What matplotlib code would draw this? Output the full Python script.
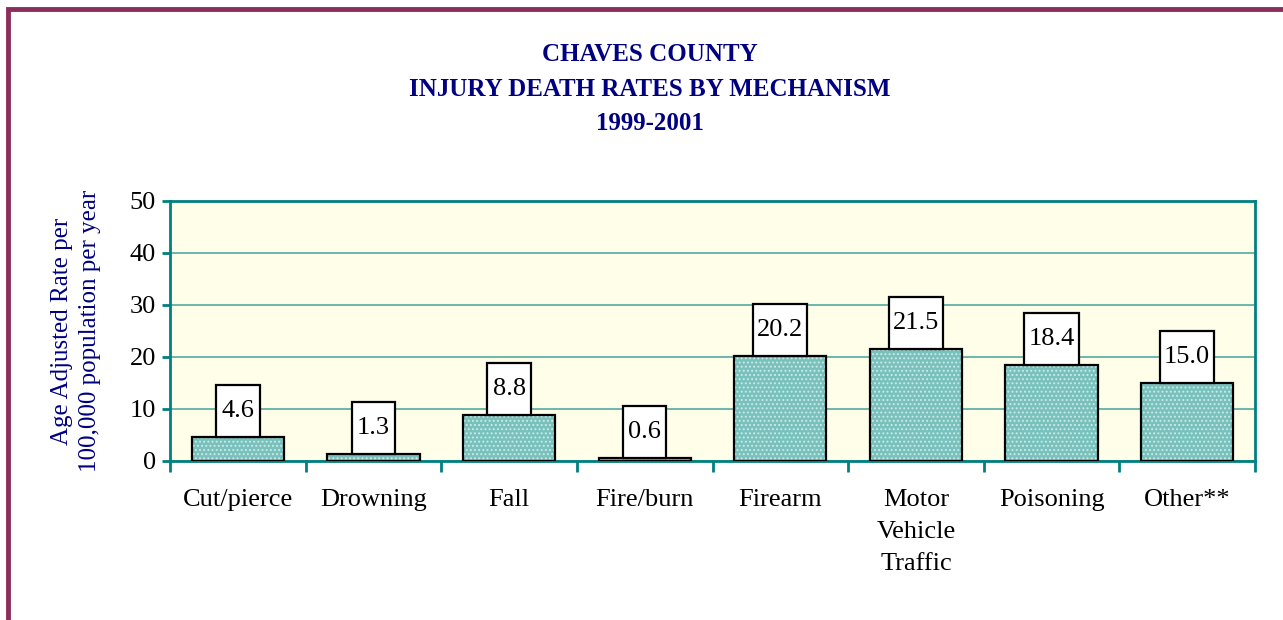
import matplotlib
matplotlib.use("Agg")
import matplotlib.pyplot as plt
from matplotlib.patches import Rectangle

# Injury death rates, Chaves County 1999-2001
categories = ["Cut/pierce", "Drowning", "Fall", "Fire/burn", "Firearm",
              "Motor\nVehicle\nTraffic", "Poisoning", "Other**"]
rates = [4.6, 1.3, 8.8, 0.6, 20.2, 21.5, 18.4, 15.0]
y_ticks = [0, 10, 20, 30, 40, 50]

plt.rcParams["font.family"] = ["Liberation Serif", "DejaVu Serif"]
plt.rcParams["hatch.linewidth"] = 0.9

navy = "#000080"
teal = "#008080"
grid_col = "#6DB7AB"
bar_col = "#78C1BC"

fig = plt.figure(figsize=(12.83, 6.2), dpi=100)
ax = fig.add_axes([0.1325, 0.2565, 0.8457, 0.4194])
ax.set_facecolor("#FFFEE8")

x = list(range(len(categories)))

# dotted fill, then black outline on top
ax.bar(x, rates, width=0.68, color=bar_col, edgecolor="#CDEAE7",
       linewidth=0, hatch="....", zorder=3)
ax.bar(x, rates, width=0.68, fill=False, edgecolor="black",
       linewidth=1.6, zorder=4)

# white value boxes sitting on each bar
labels = [f"{r:.1f}" for r in rates]
box_h = 10
box_w = [0.32 if len(s) <= 3 else 0.40 for s in labels]
ax.bar(x, [box_h] * len(rates), bottom=rates, width=box_w, color="white",
       edgecolor="black", linewidth=1.6, zorder=5)
for xi, r, s in zip(x, rates, labels):
    ax.text(xi, r + box_h / 2, s, ha="center", va="center",
            fontsize=19, zorder=6)

ax.set_xlim(-0.5, len(categories) - 0.5)
ax.set_ylim(0, 50)
ax.set_yticks(y_ticks)
ax.set_yticklabels([str(t) for t in y_ticks], fontsize=19)
ax.yaxis.grid(True, color=grid_col, linewidth=1.4, zorder=1)
ax.set_axisbelow(True)

# category names centred, ticks on category boundaries
ax.set_xticks(x)
ax.set_xticklabels(categories, fontsize=19, linespacing=1.6, va="top")
ax.set_xticks([i - 0.5 for i in range(len(categories) + 1)], minor=True)
ax.tick_params(axis="x", which="major", length=0, pad=20)
ax.tick_params(axis="x", which="minor", length=8, width=2, color=teal)
ax.tick_params(axis="y", length=6, width=2, color=teal, pad=4)

for side in ["left", "right", "top", "bottom"]:
    ax.spines[side].set_color(teal)
    ax.spines[side].set_linewidth(2)

ax.set_ylabel("Age Adjusted Rate per\n100,000 population per year",
              color=navy, fontsize=18, linespacing=1.35, labelpad=21)

fig.text(0.5066, 0.856, "CHAVES COUNTY\nINJURY DEATH RATES BY MECHANISM\n1999-2001",
         ha="center", va="center", color=navy, fontsize=18,
         fontweight="bold", linespacing=1.65)

# maroon page frame
fig.patches.append(Rectangle((8 / 1283, -0.1), 1.2, 0.1 + 1 - 9 / 620,
                             transform=fig.transFigure, fill=False,
                             edgecolor="#8B2E5C", linewidth=3.5,
                             clip_on=False))

fig.savefig("out.png", dpi=100, facecolor="white")
